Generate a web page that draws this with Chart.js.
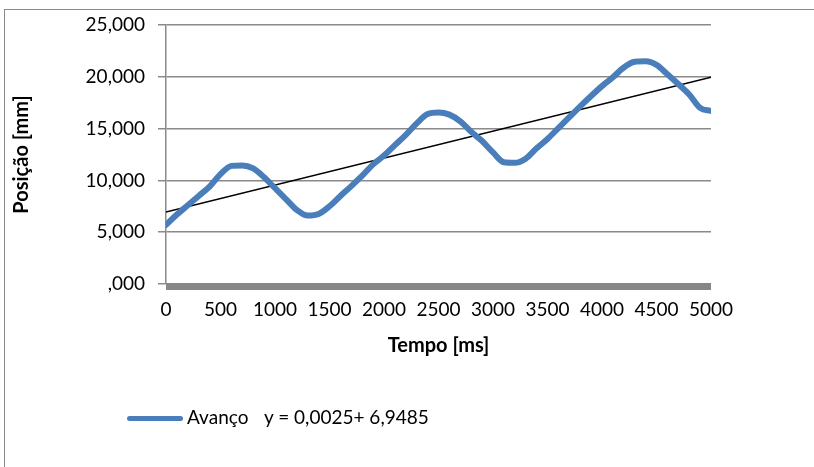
<!DOCTYPE html>
<html>
<head>
<meta charset="utf-8">
<script src="https://cdn.jsdelivr.net/npm/chart.js@4.4.1/dist/chart.umd.min.js"></script>
<style>
  html, body { margin: 0; padding: 0; background: #fff; }
  body { width: 814px; height: 467px; position: relative; overflow: hidden; font-family: Lato, "Open Sans", sans-serif; }
  #frame { position: absolute; left: 4px; top: 9px; width: 900px; height: 600px; border-left: 1px solid #8a8a8a; border-top: 1px solid #8a8a8a; }
  #wrap { position: absolute; left: 0; top: 0; width: 814px; height: 467px; }
  .legend { position: absolute; top: 405px; left: 127px; font-size: 19px; line-height: 23px; color: #000; white-space: nowrap; }
  .legend .swatch { position: absolute; left: 0; top: 11px; width: 56px; height: 5px; border-radius: 3px; background: #4a7ebb; }
  .legend .name { position: absolute; left: 60px; top: 0; }
  .legend .eq { position: absolute; left: 137px; top: 0; }
</style>
</head>
<body>
<div id="frame"></div>
<div id="wrap"><canvas id="grafico" width="814" height="467"></canvas></div>
<div class="legend">
  <span class="swatch"></span>
  <span class="name">Avanço</span>
  <span class="eq">y = 0,0025+ 6,9485</span>
</div>
<script>
// ---- dados ----
const tempos = [0, 100, 200, 300, 400, 500, 600, 700, 800, 900,
  1000, 1100, 1200, 1300, 1400, 1500, 1600, 1700, 1800, 1900,
  2000, 2100, 2200, 2300, 2400, 2500, 2600, 2700, 2800, 2900,
  3000, 3100, 3200, 3300, 3400, 3500, 3600, 3700, 3800, 3900,
  4000, 4100, 4200, 4300, 4400, 4500, 4600, 4700, 4800, 4900, 5000];
const avanco = [5700, 6700, 7600, 8500, 9400, 10600, 11400, 11450, 11150, 10300,
  9250, 8200, 7150, 6600, 6750, 7500, 8500, 9450, 10450, 11550,
  12400, 13400, 14400, 15500, 16400, 16550, 16350, 15700, 14700, 13800,
  12700, 11750, 11700, 12100, 13100, 14000, 15050, 16100, 17150, 18150,
  19100, 19950, 20900, 21450, 21500, 21150, 20250, 19300, 18300, 17000, 16700];
const tendenciaX = [0, 5000];
const tendenciaY = [6950, 19950];
const yTicks = [0, 5000, 10000, 15000, 20000, 25000];
const yTickLabels = [",000", "5,000", "10,000", "15,000", "20,000", "25,000"];
const xTickLabels = ["0", "500", "1000", "1500", "2000", "2500", "3000", "3500", "4000", "4500", "5000"];

const FONT = "Lato, 'Open Sans', sans-serif";
const CINZA = "#8a8a8a";

// faixa cinza do eixo X (marcas densas de categoria)
const faixaEixo = {
  id: "faixaEixo",
  beforeDatasetsDraw(chart) {
    const { ctx, chartArea } = chart;
    ctx.save();
    ctx.fillStyle = "#878787";
    ctx.fillRect(chartArea.left, chartArea.bottom - 1, chartArea.right - chartArea.left, 7);
    ctx.restore();
  }
};

new Chart(document.getElementById("grafico"), {
  type: "line",
  plugins: [faixaEixo],
  data: {
    datasets: [
      {
        label: "Avanço",
        data: tempos.map((t, i) => ({ x: t, y: avanco[i] })),
        borderColor: "#4a7ebb",
        borderWidth: 6,
        pointRadius: 0,
        cubicInterpolationMode: "monotone",
        borderCapStyle: "round",
        borderJoinStyle: "round"
      },
      {
        label: "y = 0,0025+ 6,9485",
        data: tendenciaX.map((t, i) => ({ x: t, y: tendenciaY[i] })),
        borderColor: "#000",
        borderWidth: 1.5,
        pointRadius: 0
      }
    ]
  },
  options: {
    responsive: false,
    animation: false,
    layout: { padding: { left: 10, top: 25, right: 103, bottom: 109 } },
    plugins: { legend: { display: false }, tooltip: { enabled: false } },
    scales: {
      x: {
        type: "linear",
        min: 0, max: 5000,
        afterFit: s => { s.height = 74; },
        afterBuildTicks: s => { s.ticks = xTickLabels.map(v => ({ value: Number(v) })); },
        grid: { display: false, drawTicks: false },
        border: { display: false },
        ticks: {
          padding: 14,
          maxRotation: 0,
          autoSkip: false,
          color: "#000",
          font: { family: FONT, size: 19 },
          callback: (v, i) => xTickLabels[i]
        },
        title: {
          display: true,
          text: "Tempo [ms]",
          color: "#000",
          padding: 0,
          font: { family: FONT, size: 20, weight: "bold" }
        }
      },
      y: {
        min: 0, max: 25000,
        afterFit: s => { s.width = 156; },
        afterBuildTicks: s => { s.ticks = yTicks.map(v => ({ value: v })); },
        grid: { color: CINZA, lineWidth: 1.5, tickLength: 8, drawTicks: true },
        border: { display: true, color: CINZA, width: 1.5 },
        ticks: {
          padding: 13,
          color: "#000",
          font: { family: FONT, size: 19 },
          callback: (v, i) => yTickLabels[i]
        },
        title: {
          display: true,
          text: "Posição [mm]",
          color: "#000",
          padding: 0,
          font: { family: FONT, size: 20, weight: "bold" }
        }
      }
    }
  }
});
</script>
</body>
</html>
